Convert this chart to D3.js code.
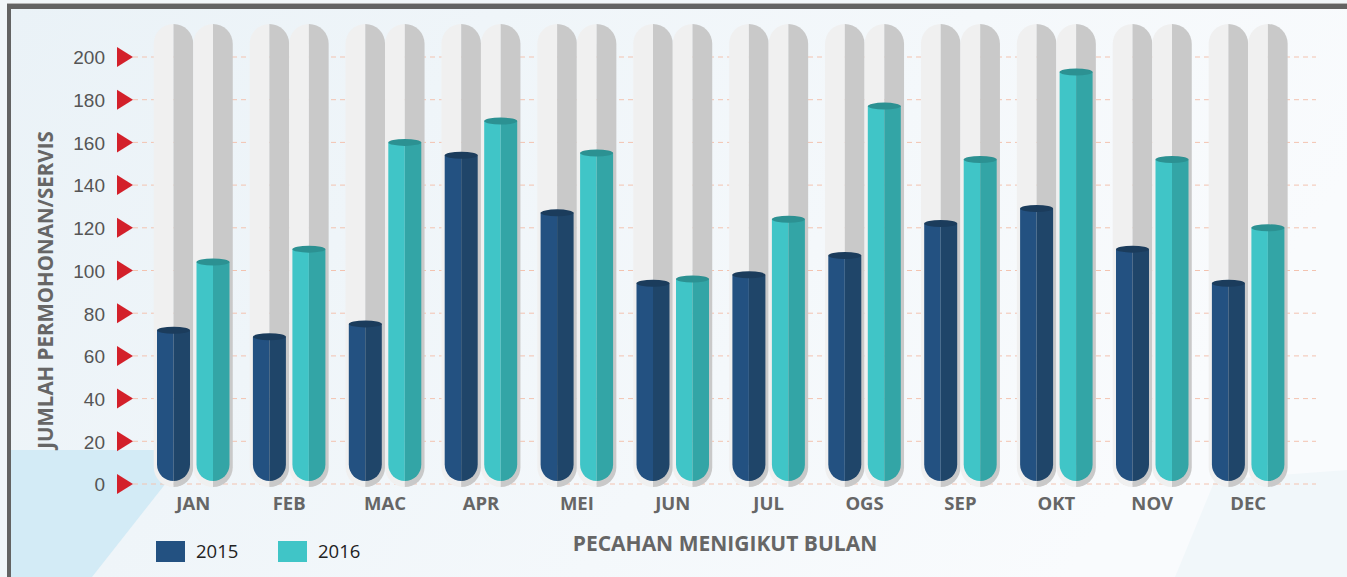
<!DOCTYPE html>
<html>
<head>
<meta charset="utf-8">
<script src="https://cdn.jsdelivr.net/npm/d3@7"></script>
<style>
  body { margin: 0; background: #f2f7fa; }
  svg { display: block; font-family: "Open Sans", "Noto Sans", sans-serif; }
</style>
</head>
<body>
<script>
// chart data
var months = ["JAN", "FEB", "MAC", "APR", "MEI", "JUN", "JUL", "OGS", "SEP", "OKT", "NOV", "DEC"];
var years = ["2015", "2016"];
var values2015 = [72, 69, 75, 154, 127, 94, 98, 107, 122, 129, 110, 94];
var values2016 = [104, 110, 160, 170, 155, 96, 124, 177, 152, 193, 152, 120];
var yTicks = [0, 20, 40, 60, 80, 100, 120, 140, 160, 180, 200];

var w = 1347, h = 577;
var colors = {
    "2015": {main: "#235181", shade: "#1f4569", top: "#1b3c5c"},
    "2016": {main: "#40c5c7", shade: "#33a5a6", top: "#2c9192"}
};

var svg = d3.select("body").append("svg")
    .attr("width", w)
    .attr("height", h);

var defs = svg.append("defs");
var bg = defs.append("linearGradient").attr("id", "bg")
    .attr("x1", "0").attr("y1", "0").attr("x2", "1").attr("y2", "0.3");
bg.append("stop").attr("offset", "0").attr("stop-color", "#eaf2f7");
bg.append("stop").attr("offset", "1").attr("stop-color", "#f9fbfd");

// background + frame
svg.append("rect").attr("x", 0).attr("y", 0).attr("width", w).attr("height", h).attr("fill", "#f1f6f9");
svg.append("rect").attr("x", 11).attr("y", 8).attr("width", w - 11).attr("height", h - 8).attr("fill", "url(#bg)");
svg.append("polygon")
    .attr("points", "11,450 192,450 92,577 11,577")
    .attr("fill", "#d3ebf6");
svg.append("polygon")
    .attr("points", "1215,480 1347,470 1347,577 1175,577")
    .attr("fill", "#f1f7fa");
svg.append("rect").attr("x", 7).attr("y", 3).attr("width", w - 7).attr("height", 1).attr("fill", "#b5b5b5");
svg.append("rect").attr("x", 7).attr("y", 4).attr("width", w - 7).attr("height", 5).attr("fill", "#636363");
svg.append("rect").attr("x", 7).attr("y", 4).attr("width", 4).attr("height", h - 4).attr("fill", "#636363");

// scales
var y = d3.scaleLinear().domain([0, 200]).range([484, 57]);
var x0 = d3.scaleBand().domain(months).range([145.3, 145.3 + 12 * 95.9]);

// grid lines
svg.append("g").selectAll("line")
    .data(yTicks)
    .join("line")
    .attr("x1", 133).attr("x2", 1316)
    .attr("y1", function(d) { return y(d); })
    .attr("y2", function(d) { return y(d); })
    .attr("stroke", "#f3c3b0")
    .attr("stroke-width", 1)
    .attr("stroke-dasharray", "5,4");

// y axis labels
var yAxis = d3.axisLeft(y).tickValues(yTicks).tickSize(0).tickPadding(0);
var gy = svg.append("g")
    .attr("transform", "translate(105,0)")
    .call(yAxis);
gy.select(".domain").remove();
gy.selectAll("text")
    .attr("fill", "#555")
    .style("font-size", "19px")
    .attr("dy", "0.36em");

// red triangles
svg.append("g").selectAll("path")
    .data(yTicks)
    .join("path")
    .attr("d", function(d) {
        var yy = y(d);
        return "M117," + (yy - 10) + "L133," + yy + "L117," + (yy + 10) + "Z";
    })
    .attr("fill", "#d3202a");

// bars
var slot = 39.5;
var barW = 33;
var bottom = 481;

var data = months.map(function(m, i) {
    return {month: m, vals: [{year: "2015", v: values2015[i]}, {year: "2016", v: values2016[i]}]};
});

var groups = svg.append("g").selectAll("g")
    .data(data)
    .join("g")
    .attr("transform", function(d) { return "translate(" + (x0(d.month) + x0.bandwidth() / 2) + ",0)"; });

var x1 = d3.scaleBand().domain(years).range([-slot, slot]);

groups.each(function(d) {
    var g = d3.select(this);
    d.vals.forEach(function(b) {
        var cx = x1(b.year) + slot / 2;
        var r = slot / 2;
        var top = 24, bot = 487;
        // capsule background
        g.append("path")
            .attr("d", "M" + (cx - r) + "," + (top + r) +
                "A" + r + "," + r + " 0 0 1 " + cx + "," + top +
                "L" + cx + "," + bot +
                "A" + r + "," + r + " 0 0 1 " + (cx - r) + "," + (bot - r) + "Z")
            .attr("fill", "#f0f0f0");
        g.append("path")
            .attr("d", "M" + cx + "," + top +
                "A" + r + "," + r + " 0 0 1 " + (cx + r) + "," + (top + r) +
                "L" + (cx + r) + "," + (bot - r) +
                "A" + r + "," + r + " 0 0 1 " + cx + "," + bot + "Z")
            .attr("fill", "#c9c9c9");

        // coloured bar
        var br = barW / 2;
        var ty = y(b.v);
        var c = colors[b.year];
        g.append("path")
            .attr("d", "M" + (cx - br) + "," + ty +
                "L" + cx + "," + ty +
                "L" + cx + "," + bottom +
                "A" + br + "," + br + " 0 0 1 " + (cx - br) + "," + (bottom - br) + "Z")
            .attr("fill", c.main);
        g.append("path")
            .attr("d", "M" + cx + "," + ty +
                "L" + (cx + br) + "," + ty +
                "L" + (cx + br) + "," + (bottom - br) +
                "A" + br + "," + br + " 0 0 1 " + cx + "," + bottom + "Z")
            .attr("fill", c.shade);
        g.append("ellipse")
            .attr("cx", cx).attr("cy", ty)
            .attr("rx", br).attr("ry", 3.5)
            .attr("fill", c.top);
    });
    g.append("text")
        .attr("x", 0).attr("y", 510)
        .attr("text-anchor", "middle")
        .attr("fill", "#666")
        .style("font-size", "18.5px")
        .style("font-weight", "bold")
        .text(d.month);
});

// axis titles
svg.append("text")
    .attr("transform", "translate(53,290) rotate(-90)")
    .attr("text-anchor", "middle")
    .attr("fill", "#666")
    .style("font-size", "20.5px")
    .style("font-weight", "bold")
    .text("JUMLAH PERMOHONAN/SERVIS");

svg.append("text")
    .attr("x", 725).attr("y", 551)
    .attr("text-anchor", "middle")
    .attr("fill", "#666")
    .style("font-size", "21px")
    .style("font-weight", "bold")
    .text("PECAHAN MENIGIKUT BULAN");

// legend
var legend = svg.append("g").selectAll("g")
    .data(years)
    .join("g")
    .attr("transform", function(d, i) { return "translate(" + (156 + i * 122) + ",541)"; });
legend.append("rect")
    .attr("width", 29).attr("height", 21)
    .attr("fill", function(d) { return colors[d].main; });
legend.append("text")
    .attr("x", 40).attr("y", 17)
    .attr("fill", "#222")
    .style("font-size", "18.5px")
    .text(function(d) { return d; });
</script>
</body>
</html>
